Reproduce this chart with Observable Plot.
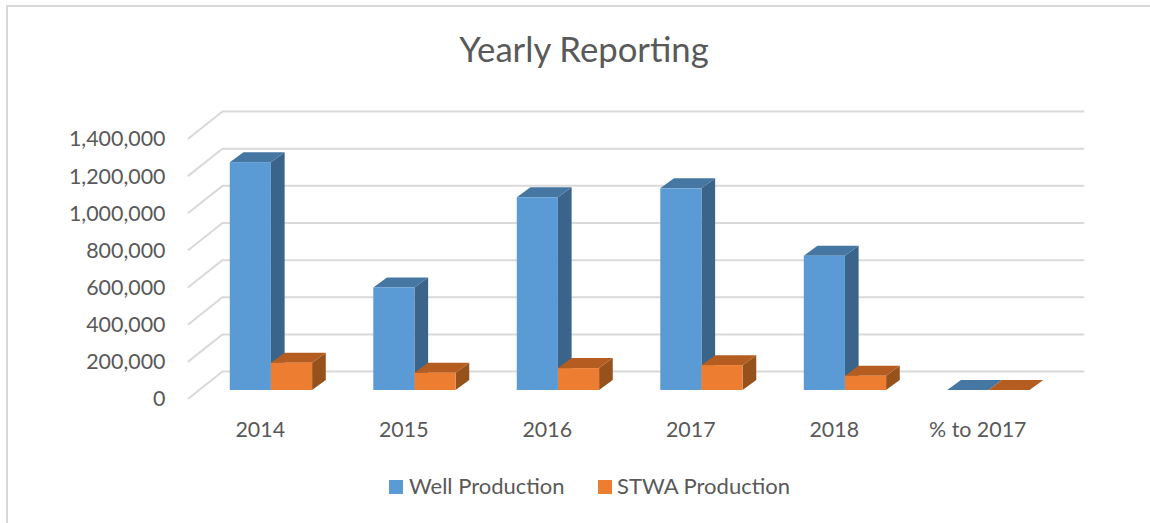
<!DOCTYPE html>
<html>
<head>
<meta charset="utf-8">
<script src="https://cdn.jsdelivr.net/npm/d3@7"></script>
<script src="https://cdn.jsdelivr.net/npm/@observablehq/plot@0.6"></script>
<style>
  html, body { margin: 0; padding: 0; background: #fff; }
  #page { position: relative; width: 1150px; height: 523px; overflow: hidden; font-family: Lato, sans-serif; color: #595959; }
  #frame { position: absolute; left: 6px; top: 5px; width: 1200px; height: 600px; border: 2px solid #d9d9d9; box-sizing: border-box; }
  #title { position: absolute; left: 0; top: 27px; width: 1168px; text-align: center; font-size: 34.7px; line-height: 44px; }
  #chart { position: absolute; left: 0; top: 100px; }
  #chart svg { display: block; background: transparent; }
  .key { position: absolute; top: 472px; font-size: 22px; line-height: 28px; white-space: nowrap; }
  .key i { position: absolute; top: 8px; width: 14px; height: 14px; }
</style>
</head>
<body>
<div id="page">
  <div id="frame"></div>
  <div id="title">Yearly Reporting</div>
  <div id="chart"></div>
  <div id="legend"></div>
</div>
<script>
const categories = ["2014", "2015", "2016", "2017", "2018", "% to 2017"];
const wellProduction = [1227000, 552000, 1038000, 1086000, 723000, 0];
const stwaProduction = [147000, 93000, 118000, 134000, 77000, 0];
const yTicks = [0, 200000, 400000, 600000, 800000, 1000000, 1200000, 1400000];

const seriesNames = ["Well Production", "STWA Production"];
const seriesValues = [wellProduction, stwaProduction];
const faceColors = [
  {front: "#5b9bd5", side: "#3a6489", top: "#4676a2"},
  {front: "#ed7d31", side: "#97521c", top: "#b55d20"}
];

// Oblique projection, in data units: floor depth, and how far the bars stand from the front edge.
const floorDX = 0.2364, floorDY = 145000;
const barShiftX = 0.078, barShiftY = 43000;
const barDX = 0.0953, barDY = 53800;
const barW = 0.2868;

const rows = seriesNames.flatMap((name, s) =>
  categories.map((c, i) => {
    const x0 = i + 0.5 + barShiftX + (s - 1) * barW;
    return {id: `${s}-${i}`, s, x0, x1: x0 + barW, y0: barShiftY, y1: seriesValues[s][i] + barShiftY};
  })
);

const sideRows = rows.flatMap(r => [
  {...r, x: r.x1, lo: r.y0, hi: r.y1},
  {...r, x: r.x1 + barDX, lo: r.y0 + barDY, hi: r.y1 + barDY}
]);
const topRows = rows.flatMap(r => [
  {...r, y: r.y1, a: r.x0, b: r.x1},
  {...r, y: r.y1 + barDY, a: r.x0 + barDX, b: r.x1 + barDX}
]);
const gridRows = yTicks.flatMap(v => [
  {v, x: 0, y: v},
  {v, x: floorDX, y: v + floorDY},
  {v, x: categories.length + floorDX, y: v + floorDY}
]);

const faceMarks = [0, 1].flatMap(s => [
  Plot.areaY(sideRows.filter(d => d.s === s), {x: "x", y1: "lo", y2: "hi", z: "id", fill: faceColors[s].side}),
  Plot.areaX(topRows.filter(d => d.s === s), {y: "y", x1: "a", x2: "b", z: "id", fill: faceColors[s].top}),
  Plot.rect(rows.filter(d => d.s === s && d.y1 > d.y0), {x1: "x0", x2: "x1", y1: "y0", y2: "y1", fill: faceColors[s].front})
]);

const chart = Plot.plot({
  width: 1150,
  height: 360,
  marginLeft: 188,
  marginRight: 101,
  marginTop: 38,
  marginBottom: 62,
  style: {background: "transparent", fontFamily: "Lato, sans-serif", fontSize: "21px", color: "#595959"},
  x: {type: "linear", domain: [0, categories.length]},
  y: {domain: [0, 1400000]},
  marks: [
    Plot.line(gridRows, {x: "x", y: "y", z: "v", stroke: "#d9d9d9", strokeWidth: 2}),
    ...faceMarks,
    Plot.axisY({ticks: yTicks, tickSize: 0, tickPadding: 23, label: null, tickFormat: d3.format(","), fontSize: 21.4, fill: "#595959", dy: 1}),
    Plot.axisX({ticks: categories.map((c, i) => i + 0.5), tickFormat: v => categories[Math.floor(v)], tickSize: 0, tickPadding: 23, label: null, fontSize: 21.4, fill: "#595959"})
  ]
});
document.getElementById("chart").appendChild(chart);

const legendLeft = [409, 617];
const swatchLeft = [-20, -19];
const legend = document.getElementById("legend");
seriesNames.forEach((name, s) => {
  const el = document.createElement("div");
  el.className = "key";
  el.style.left = legendLeft[s] + "px";
  const sw = document.createElement("i");
  sw.style.background = faceColors[s].front;
  sw.style.left = swatchLeft[s] + "px";
  el.appendChild(sw);
  el.appendChild(document.createTextNode(name));
  legend.appendChild(el);
});
</script>
</body>
</html>
